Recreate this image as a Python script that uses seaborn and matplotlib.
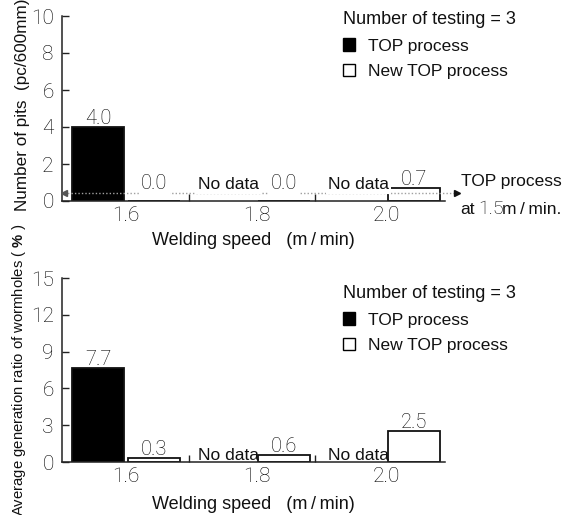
import numpy as np
import pandas as pd
import matplotlib
matplotlib.use("Agg")
import matplotlib.pyplot as plt
import seaborn as sns
from matplotlib.patches import Patch

# ---- data ----
speeds = ["1.6", "1.8", "2.0"]
processes = ["TOP process", "New TOP process"]
pits_top = [4.0, np.nan, np.nan]
pits_new = [0.0, 0.0, 0.7]
worm_top = [7.7, np.nan, np.nan]
worm_new = [0.3, 0.6, 2.5]
pits_ref_top_15 = 0.45          # TOP process at 1.5 m/min (dotted reference)
n_testing = 3
pit_yticks = [0, 2, 4, 6, 8, 10]
worm_yticks = [0, 3, 6, 9, 12, 15]

sns.set_theme(style="white")
plt.rcParams["font.family"] = ["Liberation Sans", "DejaVu Sans"]
plt.rcParams["mathtext.fontset"] = "custom"
plt.rcParams["mathtext.bf"] = "Liberation Sans:bold"
plt.rcParams["mathtext.rm"] = "Liberation Sans"

LIGHT = dict(fontfamily=["Roboto", "DejaVu Sans"], fontweight="light")
NUMC = "#000000"
W, H = 566, 515
fig = plt.figure(figsize=(W / 100, H / 100), dpi=100)
ax1 = fig.add_axes([62 / W, 1 - 201 / H, 383 / W, 185 / H])
ax2 = fig.add_axes([62 / W, 1 - 462 / H, 383 / W, 184 / H])

BAR_W, BAR_GAP = 0.86, 0.07
offs = [-BAR_W / 4, BAR_W / 4]
pal = {processes[0]: "black", processes[1]: "white"}


def draw(ax, top_vals, new_vals, yticks, ylabel, ylabel_size, ylab_x, ylab_y,
         xlab_y, zero_off_px, boxed):
    df = pd.DataFrame({
        "speed": speeds * 2,
        "process": [processes[0]] * 3 + [processes[1]] * 3,
        "value": list(top_vals) + list(new_vals),
    })
    sns.barplot(data=df, x="speed", y="value", hue="process", order=speeds,
                hue_order=processes, palette=pal, width=BAR_W, gap=BAR_GAP,
                edgecolor="#111111", linewidth=1.3, errorbar=None,
                legend=False, ax=ax)
    ax.set_xlim(-0.494, 2.45)
    ax.set_ylim(yticks[0], yticks[-1])
    sns.despine(ax=ax)
    for s in ["left", "bottom"]:
        ax.spines[s].set_color("#222222")
        ax.spines[s].set_linewidth(1.1)
    ax.set_yticks(yticks)
    ax.set_yticklabels([str(t) for t in yticks], fontsize=15, color=NUMC, **LIGHT)
    ax.tick_params(axis="y", left=True, direction="in", length=5, width=1,
                   color="#222222", pad=6)
    ax.set_xticks(range(len(speeds)))
    ax.set_xticklabels(speeds, fontsize=15, color=NUMC, **LIGHT)
    ax.tick_params(axis="x", which="major", bottom=True, length=0, pad=3.5)
    ax.set_xticks([0.48, 1.45], minor=True)
    ax.tick_params(axis="x", which="minor", bottom=True, direction="in",
                   length=5, width=1, color="#222222")
    ax.set_xlabel("Welding speed   (m\u2009/\u2009min)", fontsize=13,
                  color="#111111", va="center")
    ax.xaxis.set_label_coords(0.5, xlab_y)
    ax.set_ylabel(ylabel, fontsize=ylabel_size, color="#111111", va="center")
    ax.yaxis.set_label_coords(ylab_x, ylab_y)

    bbox = dict(boxstyle="square,pad=0.12", fc="white", ec="none") if boxed else None
    for vals, off in ((top_vals, offs[0]), (new_vals, offs[1])):
        for i, v in enumerate(vals):
            x = i + off
            if np.isnan(v):
                ax.annotate("No data", (x, 0), xytext=(0, zero_off_px * 0.72),
                            textcoords="offset points", ha="center",
                            va="baseline", fontsize=12.5, color="#111111",
                            bbox=bbox, zorder=5)
            else:
                dy = zero_off_px if v == 0 else 3
                ax.annotate(f"{v:.1f}", (x, v), xytext=(0, dy * 0.72),
                            textcoords="offset points", ha="center",
                            va="baseline", fontsize=14.5, color=NUMC,
                            bbox=bbox if v == 0 else None, zorder=5, **LIGHT)

    leg = ax.legend(
        handles=[Patch(facecolor="black", edgecolor="black", linewidth=1),
                 Patch(facecolor="white", edgecolor="black", linewidth=1)],
        labels=processes, title=f"Number of testing = {n_testing}",
        loc="upper left", bbox_to_anchor=(1.8, 1.0), bbox_transform=ax.transAxes,
        frameon=False, fontsize=12.5, title_fontsize=13, handlelength=0.7,
        handleheight=0.7, handletextpad=0.75, labelspacing=0.6,
        borderpad=0, borderaxespad=0, alignment="left")
    for t in leg.get_texts():
        t.set_color("#111111")
    leg.get_title().set_color("#111111")
    return leg


leg1 = draw(ax1, pits_top, pits_new, pit_yticks, "Number of pits  (pc/600mm)",
            12.3, -0.102, 0.52, -0.216, 12, True)
leg2 = draw(ax2, worm_top, worm_new, worm_yticks,
            r"Average generation ratio of wormholes ( $\mathbf{\%}$ )",
            10.7, -0.112, 0.5, -0.232, 2, False)
leg1.set_bbox_to_anchor((343 / W, 1 - 11 / H), transform=fig.transFigure)
leg2.set_bbox_to_anchor((343 / W, 1 - 285 / H), transform=fig.transFigure)

# dotted reference line: TOP process at 1.5 m/min
ax1.plot([-0.477, 2.54], [pits_ref_top_15] * 2, ls=(0, (1, 1.5)), lw=1.0,
         color="#a0a0a0", clip_on=False, zorder=3)
ax1.plot([-0.477], [pits_ref_top_15], marker="<", ms=4, color="#555555",
         clip_on=False, zorder=3)
ax1.plot([2.54], [pits_ref_top_15], marker=">", ms=4.5, color="#111111",
         clip_on=False, zorder=3)
ax1.annotate("TOP process", (2.57, pits_ref_top_15), xytext=(0, 8),
             textcoords="offset points", ha="left", va="center",
             fontsize=12.5, color="#111111", annotation_clip=False)
ax1.annotate("at", (2.57, pits_ref_top_15), xytext=(0, -12),
             textcoords="offset points", ha="left", va="center",
             fontsize=12.5, color="#111111", annotation_clip=False)
ax1.annotate("1.5", (2.57, pits_ref_top_15), xytext=(12.5, -12),
             textcoords="offset points", ha="left", va="center",
             fontsize=14, color=NUMC, annotation_clip=False, **LIGHT)
ax1.annotate("m\u2009/\u2009min.", (2.57, pits_ref_top_15), xytext=(29.5, -12),
             textcoords="offset points", ha="left", va="center",
             fontsize=12.5, color="#111111", annotation_clip=False)

fig.savefig("out.png", dpi=100)
